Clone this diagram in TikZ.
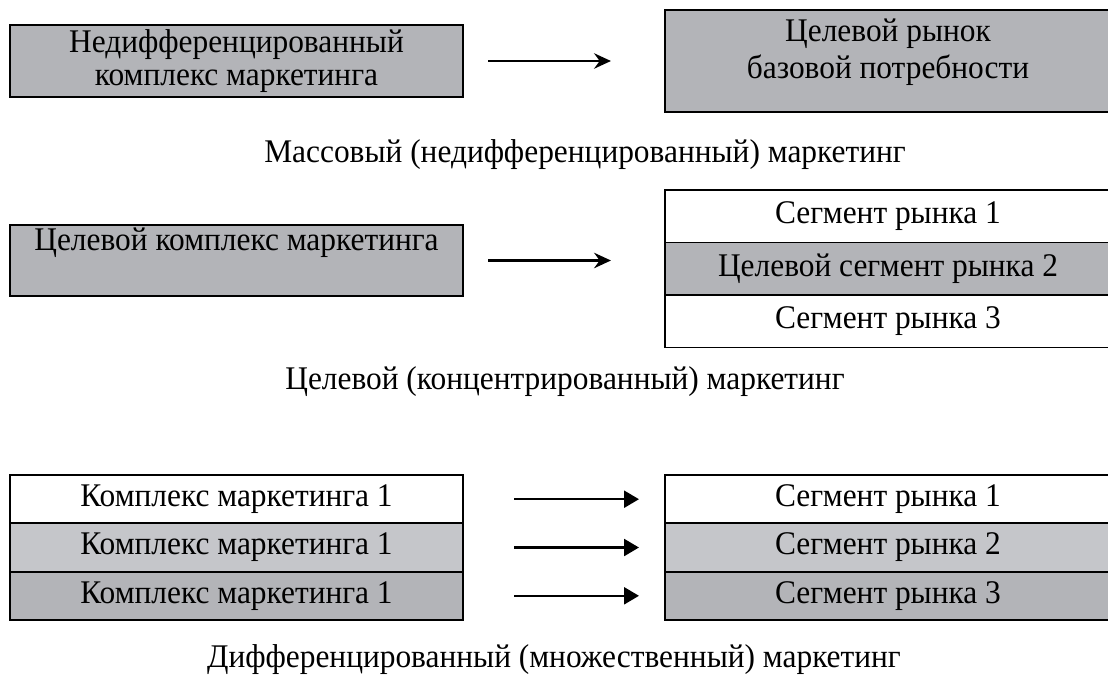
\documentclass[tikz,border=0pt]{standalone}
\usepackage{fontspec}
\setmainfont{Liberation Serif}[FakeStretch=0.95]
\usepackage{tikz}
\usetikzlibrary{arrows.meta}
\definecolor{darkfill}{HTML}{B3B4B8}
\definecolor{lightfill}{HTML}{C5C6CA}

\begin{document}
\begin{tikzpicture}[x=0.025cm, y=-0.025cm,
  font=\fontsize{23.5}{28}\selectfont,
  box/.style   = {draw, line width=1.4pt, inner sep=0pt},
  leftrow/.style  = {box, minimum width=11.325cm, minimum height=1.208cm},
  rightrow/.style = {box, minimum width=11.15cm},
  thinarrow/.style = {line width=1.6pt, -{Stealth[length=12pt, width=11pt, inset=4pt]}},
  fatarrow/.style  = {line width=1.5pt, -{Triangle[length=10.5pt, width=12pt]}}]
  \useasboundingbox (0,0) rectangle (1108,684);

  % massovyj
  \node[box, fill=darkfill, minimum width=11.325cm, minimum height=1.8cm, align=center]
        (nedif) at (236.5, 61) {Недифференцированный\\[-4pt]комплекс маркетинга};
  \node[box, fill=darkfill, minimum width=11.15cm, minimum height=2.55cm]
        (rynok) at (888, 61) {};
  \node[align=center] (rynoktxt) at (888, 52) {Целевой рынок\\[-2pt]базовой потребности};
  \node (cap1) at (585, 155) {Массовый (недифференцированный) маркетинг};
  \draw[thinarrow, shorten <=0.6cm, shorten >=1.325cm] (nedif) -- (rynok);

  % celevoj
  \node[box, fill=darkfill, minimum width=11.325cm, minimum height=1.775cm]
        (celkom) at (236.5, 260.5) {};
  \node (celkomtxt) at (236.5, 243) {Целевой комплекс маркетинга};
  \node[rightrow, minimum height=1.3125cm]                (seg1) at (888, 216.25) {Сегмент рынка 1};
  \node[rightrow, minimum height=1.3125cm, fill=darkfill] (seg2) at (888, 268.75) {Целевой сегмент рынка 2};
  \node[rightrow, minimum height=1.3125cm]                (seg3) at (888, 321.25) {Сегмент рынка 3};
  \node (cap2) at (565, 382) {Целевой (концентрированный) маркетинг};
  \draw[thinarrow, shorten <=0.6cm, shorten >=1.325cm] (celkom.east) -- (celkom.east -| seg2.west);

  % differencirovannyj
  \node[leftrow]                  (kom1) at (236.5, 499.2) {Комплекс маркетинга 1};
  \node[leftrow, fill=lightfill]  (kom2) at (236.5, 547.5) {Комплекс маркетинга 1};
  \node[leftrow, fill=darkfill]   (kom3) at (236.5, 595.8) {Комплекс маркетинга 1};
  \node[rightrow, minimum height=1.208cm]                 (dseg1) at (888, 499.2) {Сегмент рынка 1};
  \node[rightrow, minimum height=1.208cm, fill=lightfill] (dseg2) at (888, 547.5) {Сегмент рынка 2};
  \node[rightrow, minimum height=1.208cm, fill=darkfill]  (dseg3) at (888, 595.8) {Сегмент рынка 3};
  \node (cap3) at (554, 660) {Дифференцированный (множественный) маркетинг};
  \draw[fatarrow, shorten <=1.25cm, shorten >=0.625cm] (kom1) -- (dseg1);
  \draw[fatarrow, shorten <=1.25cm, shorten >=0.625cm] (kom2) -- (dseg2);
  \draw[fatarrow, shorten <=1.25cm, shorten >=0.625cm] (kom3) -- (dseg3);
\end{tikzpicture}
\end{document}
